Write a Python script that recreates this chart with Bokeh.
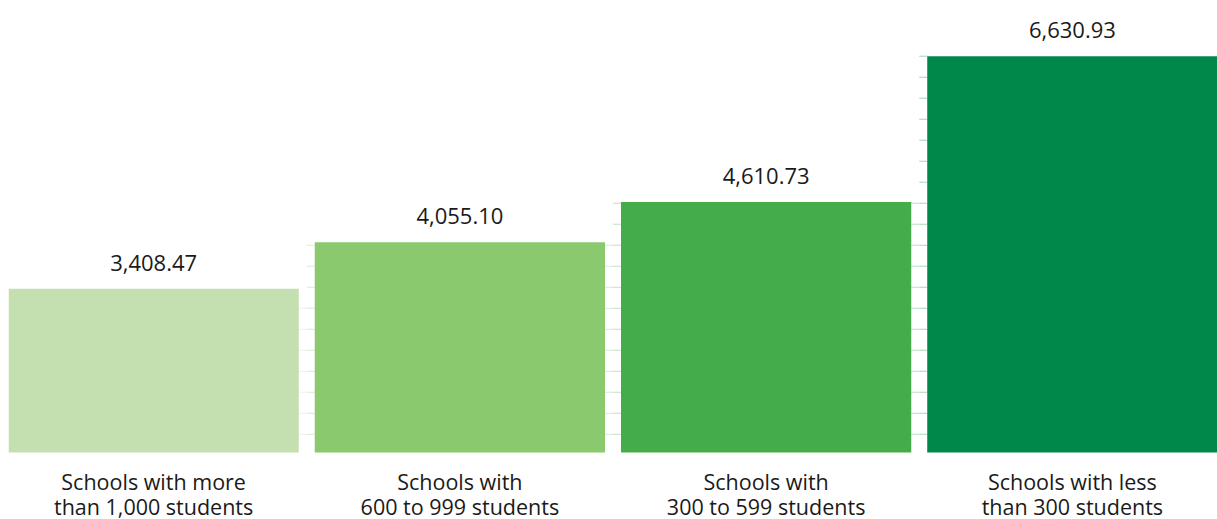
from bokeh.plotting import figure
from bokeh.models import ColumnDataSource, Range1d, LabelSet
from bokeh.core.properties import value
from bokeh.embed import file_html
from bokeh.resources import INLINE

categories = [
    "Schools with more\nthan 1,000 students",
    "Schools with\n600 to 999 students",
    "Schools with\n300 to 599 students",
    "Schools with less\nthan 300 students",
]
values = [3408.47, 4055.10, 4610.73, 6630.93]
value_labels = ["3,408.47", "4,055.10", "4,610.73", "6,630.93"]
colors = ["#c5e0b0", "#8bc96f", "#44ad4a", "#00874a"]

BASE = 1140          # value at the bars' bottom edge
Y_START = 212        # extra room below the bars for the category labels
Y_END = 7403
TICK_STEP = 291
BAR_W = 0.9478
PX_PER_UNIT = 306.25
TICK_LEN = 8 / PX_PER_UNIT
FONT = "Open Sans"

xs = list(range(len(values)))
line1 = [c.split("\n")[0] for c in categories]
line2 = [c.split("\n")[1] for c in categories]
src = ColumnDataSource(dict(x=xs, top=values, color=colors, label=value_labels,
                            l1=line1, l2=line2, base=[BASE] * len(values)))

p = figure(width=1217, height=519, output_backend="svg", toolbar_location=None,
           x_range=Range1d(-BAR_W / 2, len(values) - 1 + BAR_W / 2),
           y_range=Range1d(Y_START, Y_END),
           min_border_left=8, min_border_right=0, min_border_top=0, min_border_bottom=0)
p.outline_line_color = None
p.background_fill_color = "white"
p.border_fill_color = "white"
p.grid.visible = False
p.xaxis.visible = False
p.yaxis.visible = False

# short tick marks beside every bar
sx0, sx1, sy = [], [], []
scol = []
for i, v in enumerate(values):
    n = 0
    while True:
        yv = max(values) - n * TICK_STEP
        if yv < BASE:
            break
        if yv <= v + 1:
            left = i - BAR_W / 2
            right = i + BAR_W / 2
            sx0 += [left - TICK_LEN, right]
            sx1 += [left, right + TICK_LEN]
            sy += [yv, yv]
            scol += [colors[i], colors[i]]
        n += 1
p.segment(x0=sx0, x1=sx1, y0=sy, y1=sy, line_color=scol, line_alpha=0.35, line_width=1)

p.vbar(x="x", top="top", bottom="base", width=BAR_W, fill_color="color",
       line_color=None, source=src)

labels = LabelSet(x="x", y="top", text="label", source=src, text_align="center",
                  text_baseline="alphabetic", y_offset=18, text_font=value(FONT),
                  text_font_size="22px", text_color="#1a1a1a")
p.add_layout(labels)

for field, off in (("l1", -37), ("l2", -62)):
    p.add_layout(LabelSet(x="x", y="base", text=field, source=src, text_align="center",
                          text_baseline="alphabetic", y_offset=off,
                          text_font=value(FONT), text_font_size="21.5px",
                          text_color="#1a1a1a"))

open("out.html", "w").write(file_html(p, INLINE))
